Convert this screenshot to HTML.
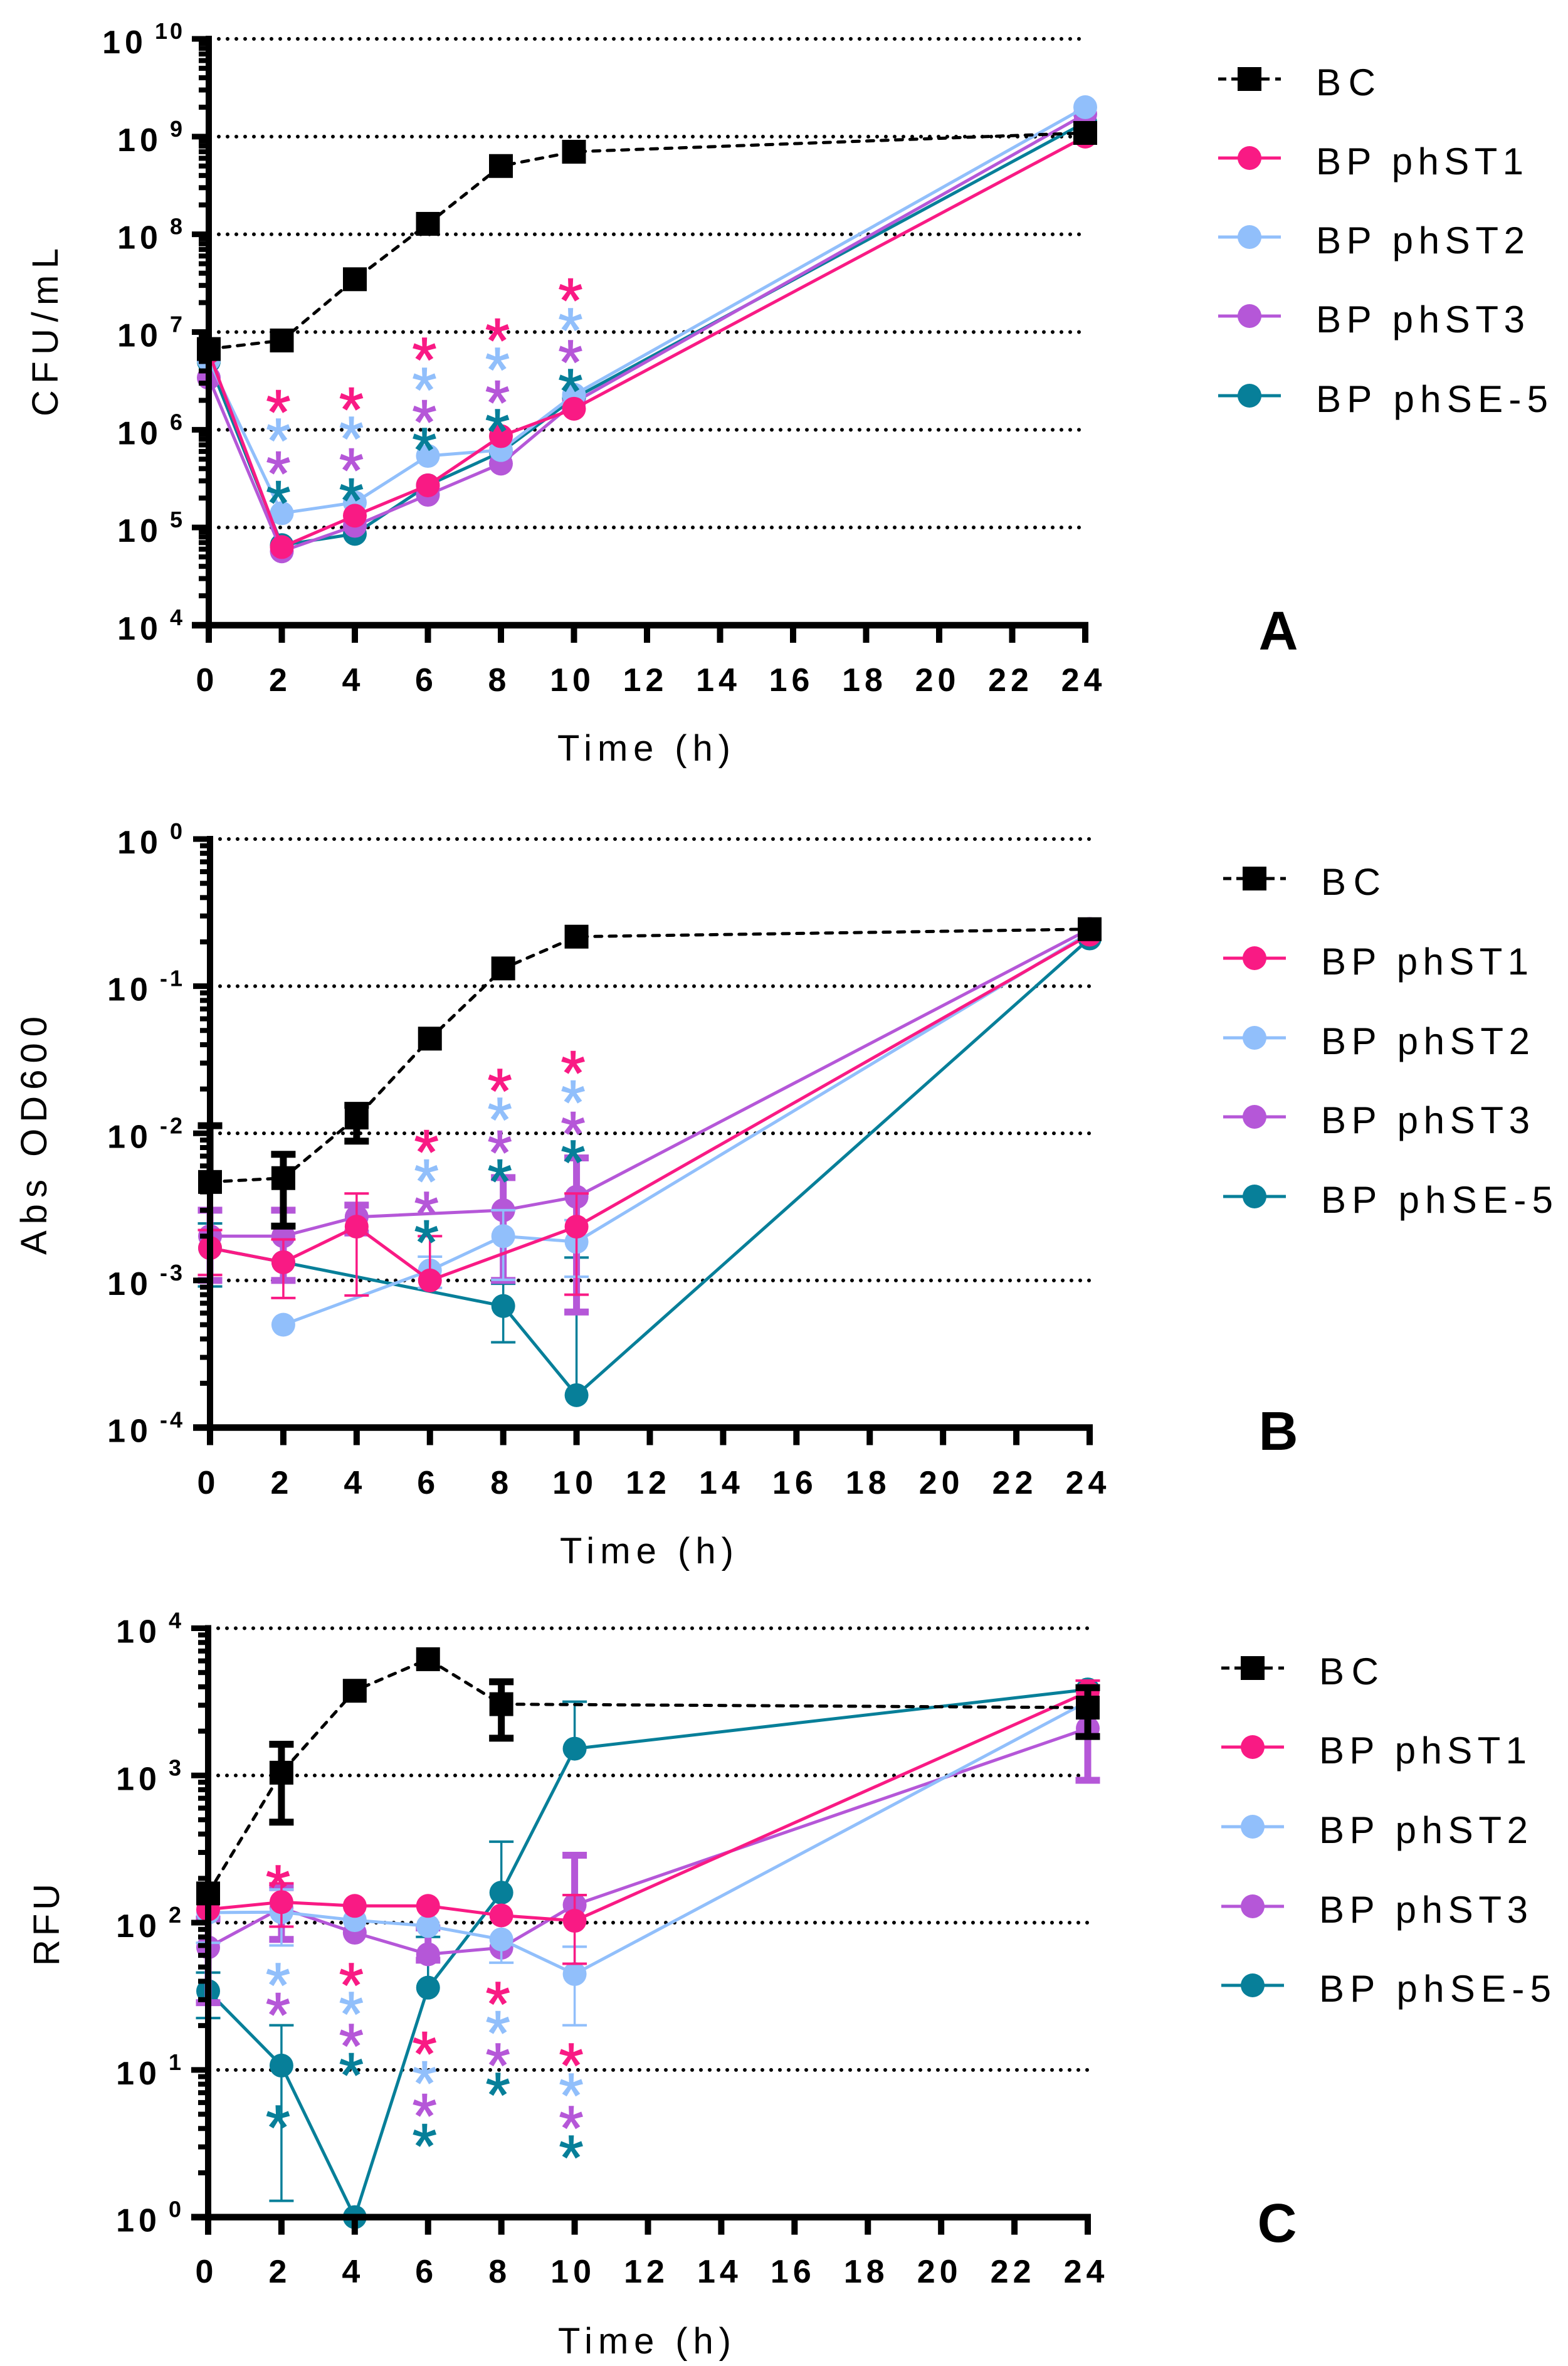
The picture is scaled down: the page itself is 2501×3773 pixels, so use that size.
<!DOCTYPE html>
<html lang="en">
<head>
<meta charset="utf-8">
<title>Phage kinetics: CFU/mL, Abs OD600 and RFU over time</title>
<style>
html,body{margin:0;padding:0;background:#fff;}
svg{display:block;}
text{font-family:"Liberation Sans",Arial,sans-serif;fill:#000;}
.tick-x{font-size:52px;font-weight:700;letter-spacing:7px;text-anchor:middle;}
.tick-y{font-size:52px;font-weight:700;text-anchor:end;}
.tick-y .main{font-size:52px;letter-spacing:7px;}
.tick-y .sup{font-size:36px;letter-spacing:4px;}
.title{font-size:58px;}
.legend{font-size:60px;}
.letter{font-size:87px;font-weight:700;text-anchor:middle;}
.star{font-size:100px;text-anchor:middle;stroke-width:1.5px;}
</style>
</head>
<body>
<svg id="fig" xmlns="http://www.w3.org/2000/svg" width="2501" height="3773" viewBox="0 0 2501 3773">
  <rect x="0" y="0" width="2501" height="3773" fill="#fff"/>
  <g id="panel-a"></g>
  <g id="panel-b"></g>
  <g id="panel-c"></g>

  <text class="title" x="889" y="1213" textLength="276" lengthAdjust="spacing">Time (h)</text>
  <text class="title" x="893" y="2493" textLength="277" lengthAdjust="spacing">Time (h)</text>
  <text class="title" x="890" y="3753" textLength="276" lengthAdjust="spacing">Time (h)</text>
  <text class="title" transform="translate(92,664) rotate(-90)" textLength="268" lengthAdjust="spacing">CFU/mL</text>
  <text class="title" transform="translate(74,2001) rotate(-90)" textLength="380" lengthAdjust="spacing">Abs OD600</text>
  <text class="title" transform="translate(94,3135) rotate(-90)" textLength="131" lengthAdjust="spacing">RFU</text>

  <text class="letter" x="2039" y="1036">A</text>
  <text class="letter" x="2039" y="2312">B</text>
  <text class="letter" x="2037" y="3575">C</text>

  <g transform="translate(1943,0)">
    <g transform="translate(0,126)">
      <path d="M0 0H100" stroke="#000" stroke-width="5" stroke-dasharray="13 8 61 9 9" fill="none"/>
      <rect x="31" y="-19" width="38" height="38" fill="#000"/>
      <text class="legend" x="156" y="26" textLength="95" lengthAdjust="spacing">BC</text>
    </g>
    <g transform="translate(0,252)">
      <path d="M0 0H100" stroke="#f91a84" stroke-width="5" fill="none"/>
      <circle cx="50" cy="0" r="19" fill="#f91a84"/>
      <text class="legend" x="156" y="26" textLength="331" lengthAdjust="spacing">BP phST1</text>
    </g>
    <g transform="translate(0,378)">
      <path d="M0 0H100" stroke="#91bffb" stroke-width="5" fill="none"/>
      <circle cx="50" cy="0" r="19" fill="#91bffb"/>
      <text class="legend" x="156" y="26" textLength="333" lengthAdjust="spacing">BP phST2</text>
    </g>
    <g transform="translate(0,504)">
      <path d="M0 0H100" stroke="#b557d8" stroke-width="5" fill="none"/>
      <circle cx="50" cy="0" r="19" fill="#b557d8"/>
      <text class="legend" x="156" y="26" textLength="333" lengthAdjust="spacing">BP phST3</text>
    </g>
    <g transform="translate(0,631)">
      <path d="M0 0H100" stroke="#077f99" stroke-width="5" fill="none"/>
      <circle cx="50" cy="0" r="19" fill="#077f99"/>
      <text class="legend" x="156" y="26" textLength="370" lengthAdjust="spacing">BP phSE-5</text>
    </g>
  </g>

  <g transform="translate(1951,0)">
    <g transform="translate(0,1401)">
      <path d="M0 0H100" stroke="#000" stroke-width="5" stroke-dasharray="13 8 61 9 9" fill="none"/>
      <rect x="31" y="-19" width="38" height="38" fill="#000"/>
      <text class="legend" x="156" y="26" textLength="95" lengthAdjust="spacing">BC</text>
    </g>
    <g transform="translate(0,1528)">
      <path d="M0 0H100" stroke="#f91a84" stroke-width="5" fill="none"/>
      <circle cx="50" cy="0" r="19" fill="#f91a84"/>
      <text class="legend" x="156" y="26" textLength="331" lengthAdjust="spacing">BP phST1</text>
    </g>
    <g transform="translate(0,1655)">
      <path d="M0 0H100" stroke="#91bffb" stroke-width="5" fill="none"/>
      <circle cx="50" cy="0" r="19" fill="#91bffb"/>
      <text class="legend" x="156" y="26" textLength="333" lengthAdjust="spacing">BP phST2</text>
    </g>
    <g transform="translate(0,1781)">
      <path d="M0 0H100" stroke="#b557d8" stroke-width="5" fill="none"/>
      <circle cx="50" cy="0" r="19" fill="#b557d8"/>
      <text class="legend" x="156" y="26" textLength="333" lengthAdjust="spacing">BP phST3</text>
    </g>
    <g transform="translate(0,1908)">
      <path d="M0 0H100" stroke="#077f99" stroke-width="5" fill="none"/>
      <circle cx="50" cy="0" r="19" fill="#077f99"/>
      <text class="legend" x="156" y="26" textLength="370" lengthAdjust="spacing">BP phSE-5</text>
    </g>
  </g>

  <g transform="translate(1948,0)">
    <g transform="translate(0,2660)">
      <path d="M0 0H100" stroke="#000" stroke-width="5" stroke-dasharray="13 8 61 9 9" fill="none"/>
      <rect x="31" y="-19" width="38" height="38" fill="#000"/>
      <text class="legend" x="156" y="26" textLength="95" lengthAdjust="spacing">BC</text>
    </g>
    <g transform="translate(0,2786)">
      <path d="M0 0H100" stroke="#f91a84" stroke-width="5" fill="none"/>
      <circle cx="50" cy="0" r="19" fill="#f91a84"/>
      <text class="legend" x="156" y="26" textLength="331" lengthAdjust="spacing">BP phST1</text>
    </g>
    <g transform="translate(0,2913)">
      <path d="M0 0H100" stroke="#91bffb" stroke-width="5" fill="none"/>
      <circle cx="50" cy="0" r="19" fill="#91bffb"/>
      <text class="legend" x="156" y="26" textLength="333" lengthAdjust="spacing">BP phST2</text>
    </g>
    <g transform="translate(0,3040)">
      <path d="M0 0H100" stroke="#b557d8" stroke-width="5" fill="none"/>
      <circle cx="50" cy="0" r="19" fill="#b557d8"/>
      <text class="legend" x="156" y="26" textLength="333" lengthAdjust="spacing">BP phST3</text>
    </g>
    <g transform="translate(0,3166)">
      <path d="M0 0H100" stroke="#077f99" stroke-width="5" fill="none"/>
      <circle cx="50" cy="0" r="19" fill="#077f99"/>
      <text class="legend" x="156" y="26" textLength="370" lengthAdjust="spacing">BP phSE-5</text>
    </g>
  </g>
</svg>
<script>
// ---------- Data ----------
const hours = [0, 2, 4, 6, 8, 10, 24];
const xTickLabels = [0, 2, 4, 6, 8, 10, 12, 14, 16, 18, 20, 22, 24];

// Panel A: CFU/mL
const aDecades = [4, 5, 6, 7, 8, 9, 10];
const aBC   = [6.7e6, 8.2e6, 3.47e7, 1.28e8, 5.0e8, 7.0e8, 1.09e9];
const aST1  = [6.2e6, 6.3e4, 1.32e5, 2.7e5, 8.6e5, 1.64e6, 1.0e9];
const aST2  = [5.2e6, 1.4e5, 1.8e5, 5.4e5, 6.2e5, 2.28e6, 2.0e9];
const aST3  = [3.4e6, 5.7e4, 1.04e5, 2.16e5, 4.5e5, 1.9e6, 1.7e9];
const aSE5  = [5.0e6, 6.6e4, 8.6e4, 2.7e5, 5.9e5, 2.1e6, 1.4e9];
const aStarHours = [2, 4, 6, 8, 10];
const aStarST1 = [6.281, 6.307, 6.818, 7.013, 7.422];
const aStarST2 = [5.99, 6.01, 6.51, 6.716, 7.12];
const aStarST3 = [5.652, 5.683, 6.179, 6.379, 6.793];
const aStarSE5 = [5.35, 5.376, 5.893, 6.087, 6.496];

// Panel B: Abs OD600
const bDecades = [-4, -3, -2, -1, 0];
const bBC     = [4.67e-3, 4.96e-3, 1.28e-2, 4.4e-2, 0.132, 0.217, 0.244];
const bBCHi   = [1.127e-2, 7.2e-3, 1.55e-2, null, null, null, null];
const bBCLo   = [null, 2.34e-3, 8.85e-3, null, null, null, null];
const bST1    = [1.66e-3, 1.33e-3, 2.32e-3, 1.0e-3, null, 2.32e-3, 0.224];
const bST1Hi  = [2.2e-3, 1.9e-3, 3.9e-3, 2.0e-3, null, 3.9e-3, null];
const bST1Lo  = [1.09e-3, 7.6e-4, 7.9e-4, null, null, 8.0e-4, null];
const bST2    = [null, 5.0e-4, null, 1.17e-3, 2.0e-3, 1.83e-3, 0.231];
const bST2Hi  = [null, null, null, 1.45e-3, 3.0e-3, 2.57e-3, null];
const bST2Lo  = [null, null, null, 8.9e-4, 1.01e-3, 1.06e-3, null];
const bST3    = [2.0e-3, 2.0e-3, 2.7e-3, null, 3.0e-3, 3.7e-3, 0.245];
const bST3Hi  = [3.0e-3, 3.0e-3, 3.25e-3, null, 5.0e-3, 6.8e-3, null];
const bST3Lo  = [1.0e-3, 1.0e-3, 2.1e-3, null, 1.0e-3, 6.1e-4, null];
const bSE5    = [1.66e-3, 1.33e-3, null, null, 6.7e-4, 1.66e-4, 0.211];
const bSE5Hi  = [2.44e-3, null, null, null, 9.5e-4, 1.43e-3, null];
const bSE5Lo  = [9.1e-4, null, null, null, 3.8e-4, null, null];
const bStarHours = [6, 8, 10];
const bStarST1 = [-2.06, -1.645, -1.523];
const bStarST2 = [-2.26, -1.842, -1.723];
const bStarST3 = [-2.481, -2.066, -1.937];
const bStarSE5 = [-2.675, -2.26, -2.131];

// Panel C: RFU
const cDecades = [0, 1, 2, 3, 4];
const cBC     = [158, 1044, 3760, 6160, 3050, null, 2890];
const cBCHi   = [null, 1630, null, null, 4330, null, 3950];
const cBCLo   = [null, 482, null, null, 1790, null, 1840];
const cST1    = [123, 138, 130, 130, 112, 103, 3690];
const cST1Hi  = [null, 185, null, null, null, 154, 4410];
const cST1Lo  = [null, 94, null, null, null, 52.6, null];
const cST2    = [117, 118, 104, 95, 77, 44.8, 3180];
const cST2Hi  = [null, 168, null, null, null, 68.7, null];
const cST2Lo  = [73, 70, null, null, 53.5, 20.1, null];
const cST3    = [68, 126, 85.5, 61, 67.6, 132, 2090];
const cST3Hi  = [106, 173, null, 92, null, 287, null];
const cST3Lo  = [28.6, 77, null, 55.6, null, null, 927];
const cSE5    = [34.3, 10.7, 1, 36.2, 160, 1520, 3840];
const cSE5Hi  = [45.8, 20.1, null, 80, 355, 3170, null];
const cSE5Lo  = [22.5, 1.29, null, null, null, null, null];
const cStarHours = [2, 4, 6, 8, 10];
const cStarST1 = [2.306, 1.643, 1.175, 1.514, 1.097];
const cStarST2 = [1.643, 1.447, 0.975, 1.317, 0.893];
const cStarST3 = [1.44, 1.229, 0.754, 1.097, 0.672];
const cStarSE5 = [0.676, 1.032, 0.55, 0.896, 0.472];

// ---------- Drawing ----------
const NS = 'http://www.w3.org/2000/svg';
const COLORS = { bc: '#000000', st1: '#f91a84', st2: '#91bffb', st3: '#b557d8', se5: '#077f99' };

function make(parent, tag, attrs, text) {
  const el = document.createElementNS(NS, tag);
  for (const k in attrs) el.setAttribute(k, attrs[k]);
  if (text !== undefined) el.textContent = text;
  parent.appendChild(el);
  return el;
}

function drawPanel(p) {
  const root = document.getElementById(p.id);
  const xScale = h => p.x0 + (p.x24 - p.x0) * h / 24;
  const expMin = p.decades[0];
  const expMax = p.decades[p.decades.length - 1];
  const yExp = e => p.yBottom - (p.yBottom - p.yTop) * (e - expMin) / (expMax - expMin);
  const yScale = v => yExp(Math.log10(v));

  // gridlines
  p.decades.slice(1).forEach(function (d) {
    const grid = make(root, 'line', { x1: p.x0 + 16, x2: p.x24 + 2, y1: yExp(d), y2: yExp(d), stroke: '#000', 'stroke-width': 6, 'stroke-linecap': 'round', 'stroke-dasharray': '0 14' });
    
    
  });

  // series (last in list on top)
  p.series.forEach(function (s) {
    const g = make(root, 'g', {});
    
    
    const color = COLORS[s.key];

    // error bars
    if (s.hi) {
      const stem = s.thick ? 11 : 3.5;
      const capH = s.thick ? 11 : 4;
      hours.forEach(function (h, i) {
        if (s.values[i] === null) return;
        const cx = xScale(h);
        const cy = yScale(s.values[i]);
        [s.hi[i], s.lo[i]].forEach(function (bound, j) {
          if (bound === null) return;
          const by = yScale(bound);
          const bar = make(g, 'line', { x1: cx, x2: cx, y1: cy, y2: by, stroke: color, 'stroke-width': stem });
          
          
          const cap = make(g, 'line', { x1: cx - 19.5, x2: cx + 19.5, y1: by, y2: by, stroke: color, 'stroke-width': capH });
          
          
        });
      });
    }

    // connecting line (skips missing points)
    const pts = [];
    hours.forEach(function (h, i) {
      if (s.values[i] !== null) pts.push(xScale(h).toFixed(1) + ',' + yScale(s.values[i]).toFixed(1));
    });
    const lineAttrs = { points: pts.join(' '), fill: 'none', stroke: color, 'stroke-width': 5, 'stroke-linejoin': 'round' };
    if (s.key === 'bc') {
      lineAttrs['stroke-dasharray'] = '11 12';
      lineAttrs['stroke-linecap'] = 'round';
    }
    const line = make(g, 'polyline', lineAttrs);
    
    

    // markers
    hours.forEach(function (h, i) {
      if (s.values[i] === null) return;
      const cx = xScale(h);
      const cy = yScale(s.values[i]);
      let m;
      if (s.key === 'bc') {
        m = make(g, 'rect', { x: cx - 19, y: cy - 19, width: 38, height: 38, fill: color });
      } else {
        m = make(g, 'circle', { cx: cx, cy: cy, r: 19, fill: color });
      }
      
      
    });
  });

  // significance asterisks
  p.stars.forEach(function (st) {
    p.starHours.forEach(function (h, i) {
      const star = make(root, 'text', { class: 'star', x: xScale(h) - 5.5, y: yExp(st.levels[i]) + 50, style: 'fill:' + COLORS[st.key] + ';stroke:' + COLORS[st.key] }, '*');
      
      
    });
  });

  // axes
  const axisY = make(root, 'line', { x1: p.x0, x2: p.x0, y1: p.yTop - 5, y2: p.yBottom + 28, stroke: '#000', 'stroke-width': 10 });
  
  
  const axisX = make(root, 'line', { x1: p.x0 - 27, x2: p.x24 + 5, y1: p.yBottom, y2: p.yBottom, stroke: '#000', 'stroke-width': 10.5 });
  
  

  // y ticks and labels
  p.decades.forEach(function (d, idx) {
    const y = yExp(d);
    const major = make(root, 'line', { x1: p.x0 - 27, x2: p.x0, y1: y, y2: y, stroke: '#000', 'stroke-width': 9 });
    
    
    if (idx < p.decades.length - 1) {
      for (let k = 2; k <= 9; k++) {
        const my = yExp(d + Math.log10(k));
        const minor = make(root, 'line', { x1: p.x0 - 16, x2: p.x0, y1: my, y2: my, stroke: '#000', 'stroke-width': 8 });
        
        
      }
    }
    const label = make(root, 'text', { class: 'tick-y', x: p.labelRight, y: y + 23 });
    
    
    make(label, 'tspan', { class: 'main' }, '10');
    make(label, 'tspan', { class: 'sup', dx: 12, dy: -23 }, String(d));
  });

  // x ticks and labels
  xTickLabels.forEach(function (t) {
    const x = xScale(t);
    const tick = make(root, 'line', { x1: x, x2: x, y1: p.yBottom, y2: p.yBottom + 28, stroke: '#000', 'stroke-width': 10 });
    
    
    const label = make(root, 'text', { class: 'tick-x', x: x - 2.5, y: p.xLabelY }, String(t));
    
    
  });
}

drawPanel({
  id: 'panel-a', x0: 333, x24: 1731, yTop: 62, yBottom: 997, decades: aDecades, labelRight: 295, xLabelY: 1102,
  series: [
    { key: 'se5', values: aSE5 },
    { key: 'st3', values: aST3 },
    { key: 'st2', values: aST2 },
    { key: 'st1', values: aST1 },
    { key: 'bc', values: aBC }
  ],
  starHours: aStarHours,
  stars: [
    { key: 'st1', levels: aStarST1 },
    { key: 'st2', levels: aStarST2 },
    { key: 'st3', levels: aStarST3 },
    { key: 'se5', levels: aStarSE5 }
  ]
});

drawPanel({
  id: 'panel-b', x0: 335, x24: 1738, yTop: 1338, yBottom: 2276.5, decades: bDecades, labelRight: 295, xLabelY: 2382,
  series: [
    { key: 'se5', values: bSE5, hi: bSE5Hi, lo: bSE5Lo },
    { key: 'st3', values: bST3, hi: bST3Hi, lo: bST3Lo, thick: true },
    { key: 'st2', values: bST2, hi: bST2Hi, lo: bST2Lo },
    { key: 'st1', values: bST1, hi: bST1Hi, lo: bST1Lo },
    { key: 'bc', values: bBC, hi: bBCHi, lo: bBCLo, thick: true }
  ],
  starHours: bStarHours,
  stars: [
    { key: 'st1', levels: bStarST1 },
    { key: 'st2', levels: bStarST2 },
    { key: 'st3', levels: bStarST3 },
    { key: 'se5', levels: bStarSE5 }
  ]
});

drawPanel({
  id: 'panel-c', x0: 332, x24: 1735, yTop: 2596.5, yBottom: 3535.6, decades: cDecades, labelRight: 293, xLabelY: 3640,
  series: [
    { key: 'se5', values: cSE5, hi: cSE5Hi, lo: cSE5Lo },
    { key: 'st3', values: cST3, hi: cST3Hi, lo: cST3Lo, thick: true },
    { key: 'st2', values: cST2, hi: cST2Hi, lo: cST2Lo },
    { key: 'st1', values: cST1, hi: cST1Hi, lo: cST1Lo },
    { key: 'bc', values: cBC, hi: cBCHi, lo: cBCLo, thick: true }
  ],
  starHours: cStarHours,
  stars: [
    { key: 'st1', levels: cStarST1 },
    { key: 'st2', levels: cStarST2 },
    { key: 'st3', levels: cStarST3 },
    { key: 'se5', levels: cStarSE5 }
  ]
});
</script>
</body>
</html>
